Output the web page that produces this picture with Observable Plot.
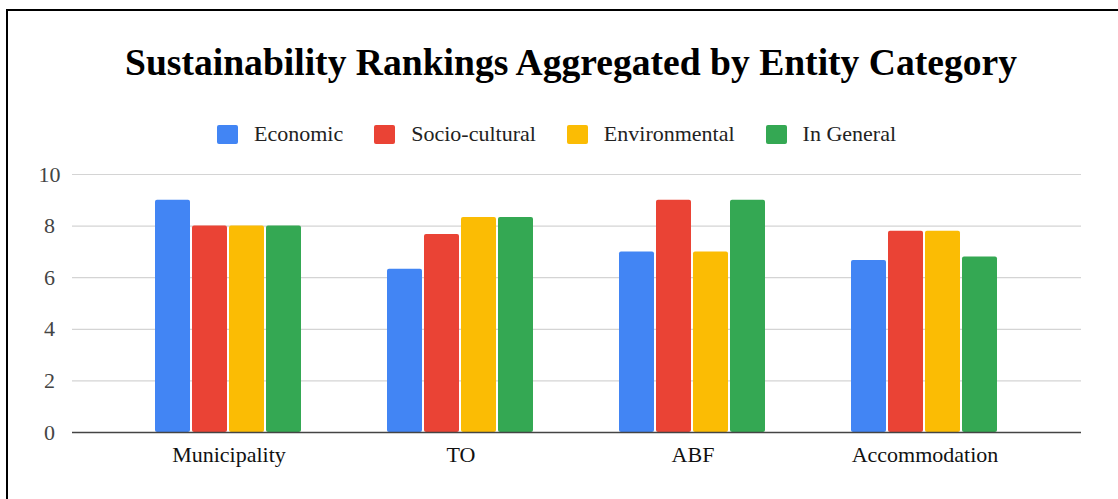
<!DOCTYPE html>
<html>
<head>
<meta charset="utf-8">
<script src="https://cdn.jsdelivr.net/npm/d3@7"></script>
<script src="https://cdn.jsdelivr.net/npm/@observablehq/plot@0.6"></script>
<style>
  html, body { margin: 0; padding: 0; background: #fff; }
  #page { position: relative; width: 1118px; height: 499px; overflow: hidden; background: #fff; }
  #frame { position: absolute; left: 6px; top: 9px; width: 1200px; height: 600px;
           border-top: 2.5px solid #000; border-left: 2px solid #000; }
  #title { position: absolute; left: 0; top: 44px; width: 1142px; text-align: center;
           font-family: "Liberation Serif", "Times New Roman", serif; font-weight: bold;
           font-size: 37.6px; line-height: 37px; color: #000; white-space: nowrap; }
  #legend { position: absolute; left: 217px; top: 123px; display: flex; gap: 31px;
            font-family: "Liberation Serif", "Times New Roman", serif; font-size: 22px;
            line-height: 22px; color: #222; white-space: nowrap; }
  #legend .item { display: flex; align-items: center; }
  #legend .swatch { width: 21px; height: 19px; border-radius: 2px; margin-right: 16px; }
  .layer { position: absolute; left: 0; top: 150px; }
  .layer svg { background: transparent !important; }
</style>
</head>
<body>
<div id="page">
  <div id="frame"></div>
  <div id="title">Sustainability Rankings Aggregated by Entity Category</div>
  <div id="legend"></div>
  <div id="grid" class="layer"></div>
  <div id="bars" class="layer"></div>
  <div id="base" class="layer"></div>
</div>
<script>
// Entity categories along the x axis
const categories = ["Municipality", "TO", "ABF", "Accommodation"];
// Ranking dimensions (one bar each per category)
const series = ["Economic", "Socio-cultural", "Environmental", "In General"];
// Scores per dimension, in category order
const economic = [9, 6.33, 7, 6.67];
const socioCultural = [8, 7.67, 9, 7.8];
const environmental = [8, 8.33, 7, 7.8];
const inGeneral = [8, 8.33, 9, 6.8];
// Y axis ticks
const yTicks = [0, 2, 4, 6, 8, 10];

const colors = ["#4285F4", "#EA4335", "#FBBC04", "#34A853"];
const valuesBySeries = [economic, socioCultural, environmental, inGeneral];

const data = [];
categories.forEach((c, i) => {
  series.forEach((s, j) => {
    data.push({category: c, series: s, value: valuesBySeries[j][i]});
  });
});

// Legend
const legend = document.getElementById("legend");
series.forEach((s, j) => {
  const item = document.createElement("div");
  item.className = "item";
  const sw = document.createElement("span");
  sw.className = "swatch";
  sw.style.background = colors[j];
  const label = document.createElement("span");
  label.textContent = s;
  item.append(sw, label);
  legend.append(item);
});

const serif = "Liberation Serif, Times New Roman, serif";

// Shared frame so the stacked layers line up exactly
const frame = {
  width: 1118,
  height: 349,
  marginTop: 24,
  marginBottom: 67,
  marginLeft: 72,
  marginRight: 37,
  style: {fontFamily: serif, background: "transparent"},
  y: {domain: [0, 10], label: null}
};

// Back layer: horizontal gridlines spanning the full plot width, plus y tick labels
const gridLayer = Plot.plot({
  ...frame,
  marks: [
    Plot.ruleY(yTicks.filter(t => t > 0), {stroke: "#d4d4d4", strokeWidth: 1.2}),
    Plot.axisY({ticks: yTicks, tickSize: 0, tickPadding: 23, textAnchor: "middle",
                fontSize: 22, fill: "#444", label: null})
  ]
});

// Middle layer: grouped bars, one facet per category
const barLayer = Plot.plot({
  ...frame,
  fx: {domain: categories, paddingInner: 0.356, paddingOuter: 0.352, label: null},
  x: {domain: series, paddingInner: 0.05, paddingOuter: 0, axis: null},
  color: {domain: series, range: colors},
  marks: [
    Plot.barY(data, {fx: "category", x: "series", y: "value", fill: "series", rx: 2}),
    Plot.axisY({ticks: [], label: null}),
    Plot.axisFx({anchor: "bottom", tickSize: 0, tickPadding: 14, fontSize: 22,
                 fill: "#111", label: null})
  ]
});

// Front layer: the zero baseline
const baseLayer = Plot.plot({
  ...frame,
  marks: [
    Plot.ruleY([0], {stroke: "#444", strokeWidth: 1.6}),
    Plot.axisY({ticks: [], label: null})
  ]
});

document.getElementById("grid").append(gridLayer);
document.getElementById("bars").append(barLayer);
document.getElementById("base").append(baseLayer);
</script>
</body>
</html>
